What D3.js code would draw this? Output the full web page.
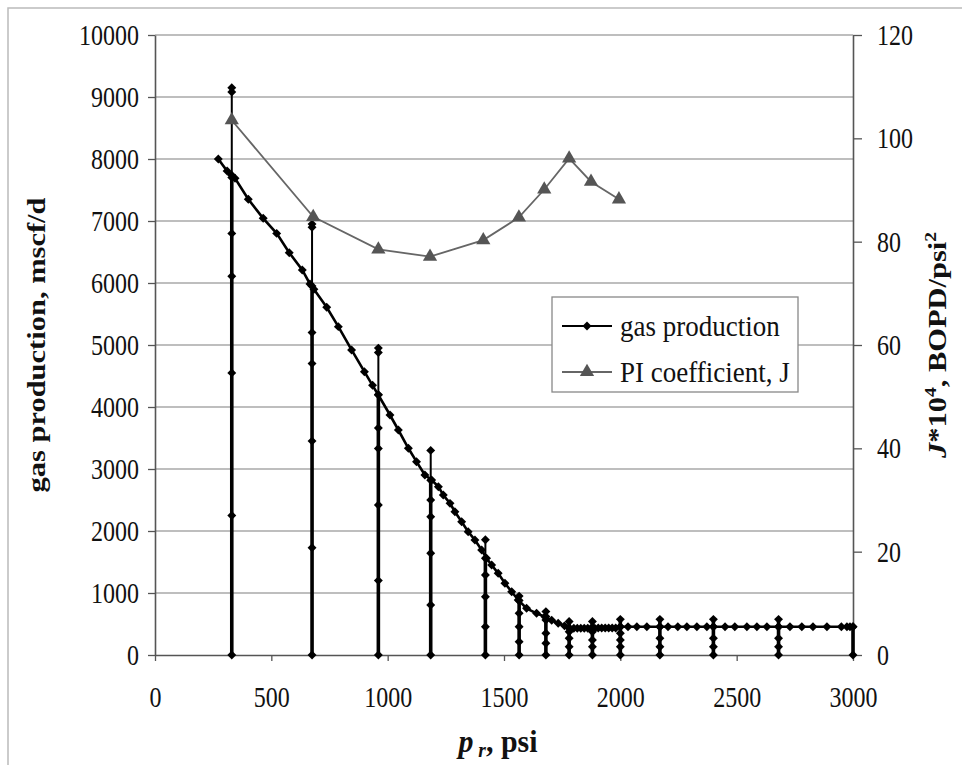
<!DOCTYPE html>
<html>
<head>
<meta charset="utf-8">
<script src="https://cdn.jsdelivr.net/npm/d3@7"></script>
<style>
  body { margin: 0; background: #fff; }
  text { font-family: "Liberation Serif", "Times New Roman", serif; fill: #111; }
</style>
</head>
<body>
<div id="chart"></div>
<script>
// tick labels
const pressureTicks = [0, 500, 1000, 1500, 2000, 2500, 3000];
const gasTicks = [0, 1000, 2000, 3000, 4000, 5000, 6000, 7000, 8000, 9000, 10000];
const jTicks = [0, 20, 40, 60, 80, 100, 120];

// gas production along the decline curve, [p, q]
const gasCurve = [
  [272, 8000], [310, 7806], [329, 7742], [344, 7688], [401, 7350], [465, 7043],
  [523, 6800], [577, 6489], [633, 6210], [666, 5984], [683, 5898], [738, 5608],
  [788, 5296], [845, 4920], [900, 4570], [935, 4350], [960, 4194], [1010, 3871],
  [1046, 3629], [1089, 3334], [1124, 3118], [1160, 2903], [1189, 2823], [1218, 2715],
  [1239, 2580], [1268, 2446], [1289, 2311], [1318, 2150], [1346, 1989], [1375, 1855],
  [1404, 1694], [1425, 1560], [1447, 1452], [1475, 1317], [1504, 1156], [1533, 1021],
  [1561, 887], [1597, 753], [1640, 672], [1676, 618], [1705, 560], [1733, 511],
  [1760, 470], [1783, 430], [1800, 430], [1815, 432], [1830, 430], [1845, 433],
  [1860, 432], [1875, 434], [1890, 432], [1905, 435], [1920, 434], [1935, 436],
  [1950, 435], [1965, 437], [1980, 436], [2000, 455], [2033, 455], [2071, 455],
  [2114, 455], [2170, 455], [2205, 455], [2247, 455], [2286, 455], [2329, 455],
  [2372, 455], [2400, 455], [2450, 455], [2492, 455], [2544, 455], [2587, 455],
  [2630, 455], [2680, 455], [2729, 455], [2780, 455], [2828, 455], [2888, 455],
  [2950, 455], [2974, 455], [2987, 455], [3000, 455]
];

// vertical runs of the gas production series at fixed pressure
const gasStems = [
  { p: 330,  join: 7700, marks: [0, 2250, 4550, 6110, 6800, 7700, 9080, 9150] },
  { p: 675,  join: 5950, marks: [0, 1730, 3450, 4700, 5200, 5950, 6900, 6950] },
  { p: 960,  join: 4200, marks: [0, 1200, 2420, 3330, 3660, 4200, 4880, 4950] },
  { p: 1185, join: 2820, marks: [0, 806, 1640, 2230, 2500, 2820, 3300] },
  { p: 1420, join: 1560, marks: [0, 456, 940, 1290, 1560, 1860] },
  { p: 1565, join: 880,  marks: [0, 215, 456, 672, 880, 950] },
  { p: 1680, join: 620,  marks: [0, 188, 350, 564, 620, 700] },
  { p: 1780, join: 540,  marks: [0, 134, 269, 376, 430, 540] },
  { p: 1880, join: 540,  marks: [0, 134, 242, 376, 435, 540] },
  { p: 2000, join: 575,  marks: [0, 134, 242, 350, 455, 575] },
  { p: 2170, join: 575,  marks: [0, 134, 269, 455, 575] },
  { p: 2400, join: 575,  marks: [0, 134, 269, 455, 575] },
  { p: 2680, join: 575,  marks: [0, 134, 269, 455, 575] },
  { p: 3000, join: 455,  marks: [0, 455] }
];

// PI coefficient J*10^4
const piPressure = [330, 680, 960, 1182, 1411, 1564, 1673, 1780, 1874, 1994];
const piValues = [103.5, 84.8, 78.5, 77.1, 80.3, 84.7, 90.1, 96.1, 91.6, 88.2];

const W = 962, H = 765;
const margin = { left: 155, right: 109, top: 35, bottom: 110 };
// the scanned figure is taller than a plain font: stretch text vertically
const stretch = 1.22;

const svg = d3.select('#chart').append('svg')
  .attr('width', W).attr('height', H);

svg.append('rect').attr('width', W).attr('height', H).attr('fill', '#fff');

// scanned page frame (top and left edges)
svg.append('path')
  .attr('d', `M8,${H} V8 H${W}`)
  .attr('fill', 'none').attr('stroke', '#bbb').attr('stroke-width', 1.5);

const x = d3.scaleLinear().domain([0, 3000]).range([margin.left, W - margin.right]);
const y = d3.scaleLinear().domain([0, 10000]).range([H - margin.bottom, margin.top]);
const yJ = d3.scaleLinear().domain([0, 120]).range([H - margin.bottom, margin.top]);

// gridlines
svg.append('g')
  .selectAll('line')
  .data(gasTicks.slice(1))
  .join('line')
  .attr('x1', x(0)).attr('x2', x(3000))
  .attr('y1', d => y(d)).attr('y2', d => y(d))
  .attr('stroke', '#a8a8a8').attr('stroke-width', 1.4);

// axes
const axisStyle = g => {
  g.select('.domain').attr('stroke', '#555').attr('stroke-width', 1.6);
  g.selectAll('.tick line').attr('stroke', '#555').attr('stroke-width', 1.3);
  g.selectAll('.tick text')
    .style('font-family', '"Liberation Serif", serif')
    .style('font-size', '24px').attr('fill', '#111')
    .attr('transform', `scale(1,${stretch})`);
};

svg.append('g')
  .attr('transform', `translate(${margin.left},0)`)
  .call(d3.axisLeft(y).tickValues(gasTicks).tickFormat(d3.format('d'))
    .tickSize(7).tickPadding(9).tickSizeOuter(0))
  .call(axisStyle);

svg.append('g')
  .attr('transform', `translate(${W - margin.right},0)`)
  .call(d3.axisRight(yJ).tickValues(jTicks).tickFormat(d3.format('d'))
    .tickSize(9).tickPadding(15).tickSizeOuter(0))
  .call(axisStyle);

svg.append('g')
  .attr('transform', `translate(0,${H - margin.bottom})`)
  .call(d3.axisBottom(x).tickValues(pressureTicks).tickFormat(d3.format('d'))
    .tickSize(6).tickPadding(20).tickSizeOuter(0))
  .call(axisStyle);

// markers
const diamond = d3.symbol().type(d3.symbolSquare).size(40);
const triangle = d3.symbol().type(d3.symbolTriangle).size(88);

const plot = svg.append('g');

// stems: thicker below the decline curve, thinner above
gasStems.forEach(s => {
  const top = d3.max(s.marks);
  plot.append('line')
    .attr('x1', x(s.p)).attr('x2', x(s.p))
    .attr('y1', y(0)).attr('y2', y(top))
    .attr('stroke', '#000').attr('stroke-width', 2);
  plot.append('line')
    .attr('x1', x(s.p)).attr('x2', x(s.p))
    .attr('y1', y(0)).attr('y2', y(s.join))
    .attr('stroke', '#000').attr('stroke-width', 3.6);
  plot.selectAll(null)
    .data(s.marks)
    .join('path')
    .attr('d', diamond)
    .attr('transform', d => `translate(${x(s.p)},${y(d)}) rotate(45)`)
    .attr('fill', '#000');
});

plot.append('path')
  .datum(gasCurve)
  .attr('fill', 'none').attr('stroke', '#000').attr('stroke-width', 2.6)
  .attr('d', d3.line().x(d => x(d[0])).y(d => y(d[1])));

plot.selectAll('.gasPt')
  .data(gasCurve)
  .join('path')
  .attr('class', 'gasPt')
  .attr('d', diamond)
  .attr('transform', d => `translate(${x(d[0])},${y(d[1])}) rotate(45)`)
  .attr('fill', '#000');

// PI coefficient series
const piData = piPressure.map((p, i) => [p, piValues[i]]);
plot.append('path')
  .datum(piData)
  .attr('fill', 'none').attr('stroke', '#666').attr('stroke-width', 1.8)
  .attr('d', d3.line().x(d => x(d[0])).y(d => yJ(d[1])));

plot.selectAll('.piPt')
  .data(piData)
  .join('path')
  .attr('class', 'piPt')
  .attr('d', triangle)
  .attr('transform', d => `translate(${x(d[0])},${yJ(d[1])})`)
  .attr('fill', '#555');

// legend
const legend = svg.append('g').attr('transform', 'translate(552,297)');
legend.append('rect')
  .attr('width', 246).attr('height', 95)
  .attr('fill', '#fff').attr('stroke', '#888').attr('stroke-width', 1.3);

const legendItems = [
  { label: 'gas production', color: '#000', sym: diamond, rot: 45 },
  { label: 'PI coefficient, J', color: '#666', sym: triangle, rot: 0 }
];
legendItems.forEach((item, i) => {
  const cy = 29 + i * 46;
  legend.append('line')
    .attr('x1', 10).attr('x2', 60).attr('y1', cy).attr('y2', cy)
    .attr('stroke', item.color).attr('stroke-width', 1.8);
  legend.append('path')
    .attr('d', item.sym)
    .attr('transform', `translate(35,${cy}) rotate(${item.rot})`)
    .attr('fill', i === 0 ? '#000' : '#555');
  legend.append('text')
    .attr('transform', `translate(68,${cy}) scale(1,1.12)`)
    .attr('dy', '0.33em')
    .style('font-size', '27px')
    .text(item.label);
});

// axis titles
const midY = (margin.top + H - margin.bottom) / 2;
svg.append('text')
  .attr('transform', `translate(45,${midY}) rotate(-90) scale(${stretch},1)`)
  .attr('text-anchor', 'middle')
  .style('font-size', '25px').style('font-weight', 'bold')
  .text('gas production, mscf/d');

const jTitle = svg.append('text')
  .attr('transform', `translate(946,${midY}) rotate(-90) scale(${stretch},1)`)
  .attr('text-anchor', 'middle')
  .style('font-size', '25px').style('font-weight', 'bold');
jTitle.append('tspan').style('font-style', 'italic').text('J');
jTitle.append('tspan').text('*10');
jTitle.append('tspan').attr('dy', -10).style('font-size', '16px').text('4');
jTitle.append('tspan').attr('dy', 10).text(', BOPD/psi');
jTitle.append('tspan').attr('dy', -10).style('font-size', '16px').text('2');

const xTitle = svg.append('text')
  .attr('transform', `translate(498,752) scale(1.15,${stretch})`)
  .attr('text-anchor', 'middle')
  .style('font-size', '26px').style('font-weight', 'bold');
xTitle.append('tspan').style('font-style', 'italic').text('p');
xTitle.append('tspan').attr('dy', 4).style('font-style', 'italic').style('font-size', '17px').text(' r');
xTitle.append('tspan').attr('dy', -4).text(', psi');
</script>
</body>
</html>
